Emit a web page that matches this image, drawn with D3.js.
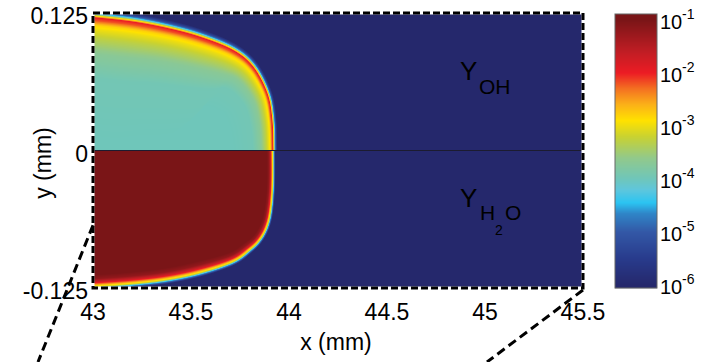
<!DOCTYPE html>
<html><head><meta charset="utf-8">
<script src="https://cdn.jsdelivr.net/npm/d3@7"></script>
<style>
body{margin:0;background:#fff}
svg{display:block}
text{font-family:"Liberation Sans",Arial,Helvetica,sans-serif;fill:#000}
</style>
</head><body>
<svg id="chart" width="711" height="362"></svg>
<script>
// ---------- data ----------
const xTicks = [43, 43.5, 44, 44.5, 45, 45.5];
const xTickLabels = ["43", "43.5", "44", "44.5", "45", "45.5"];
const yTicks = [-0.125, 0, 0.125];
const yTickLabels = ["-0.125", "0", "0.125"];
const cbTicks = [-1, -2, -3, -4, -5, -6];       // log10 exponents
const cbTickLabels = ["-1", "-2", "-3", "-4", "-5", "-6"];

// colormap (log10 value -> colour)
const cmapLog = [-6, -5.5, -5, -4.65, -4.45, -4.2, -4.0, -3.6, -3.2, -2.9, -2.6, -2.3, -2.0, -1.6, -1.0];
const cmapColors = ["#25286c", "#283b8c", "#3358a6", "#2f86c8", "#2bc4f2", "#5fc6dc", "#6fc6ba",
                    "#92c98a", "#c9d230", "#ffe200", "#fbb118", "#f47121", "#ec1c24", "#c01d24", "#7a1517"];

// OH flame front (upper half): x (mm), y (mm), local thickness factor
const ohFrontX = [43.918, 43.918, 43.913, 43.888, 43.816, 43.714, 43.546, 43.378, 43.204, 43.020, 42.960];
const ohFrontY = [-0.004, 0.003, 0.028, 0.052, 0.076, 0.091, 0.103, 0.111, 0.1168, 0.1205, 0.1214];
const ohFrontW = [1.0, 1.0, 1.1, 1.3, 1.7, 2.2, 2.6, 2.8, 3.0, 3.0, 3.0];
// OH profile across the front (distance in px, + = burnt side) -> log10(Y_OH)
const ohProfileD = [-4.5, -3, -2, -1, 0, 1, 2.5, 4, 7, 12, 20, 40];
const ohProfileLog = [-6, -5.2, -4.4, -3.0, -2.0, -2.2, -2.8, -3.0, -3.3, -3.7, -3.95, -4.0];

// H2O flame front (lower half)
const h2oFrontX = [43.918, 43.918, 43.908, 43.888, 43.852, 43.801, 43.714, 43.546, 43.378, 43.204, 43.036, 42.959];
const h2oFrontY = [0.005, -0.0295, -0.0541, -0.0695, -0.0814, -0.0905, -0.1014, -0.1114, -0.1177, -0.1214, -0.1236, -0.1241];
const h2oFrontW = [1.0, 1.0, 1.1, 1.2, 1.3, 1.5, 1.7, 2.0, 2.0, 2.0, 2.0, 2.0];
const h2oProfileD = [-2.5, -1.5, -0.8, 0, 0.8, 1.6, 2.5, 4, 6];
const h2oProfileLog = [-6, -5, -4.4, -3.2, -2.7, -2.2, -1.7, -1.2, -1.0];

// ---------- layout ----------
const svg = d3.select("#chart");
const m = {l: 93, r: 583, t: 13, b: 288};
const x = d3.scaleLinear().domain([43, 45.5]).range([m.l, m.r]);
const y = d3.scaleLinear().domain([-0.125, 0.125]).range([m.b, m.t]);
const color = d3.scaleLinear().domain(cmapLog).range(cmapColors).interpolate(d3.interpolateRgb).clamp(true);

// ---------- field raster ----------
const pw = m.r - m.l, ph = m.b - m.t;
const cv = document.createElement("canvas");
cv.width = pw; cv.height = ph;
const ctx = cv.getContext("2d");
const img = ctx.createImageData(pw, ph);

// smooth a traced front (Catmull-Rom through the read points)
function smoothPts(pts, n) {
  const out = [];
  const L = pts.length;
  for (let i = 0; i < L - 1; i++) {
    const p0 = pts[Math.max(i - 1, 0)], p1 = pts[i], p2 = pts[i + 1], p3 = pts[Math.min(i + 2, L - 1)];
    for (let s = 0; s < n; s++) {
      const t = s / n, t2 = t * t, t3 = t2 * t;
      out.push(p1.map((_, k) => 0.5 * (2 * p1[k] + (-p0[k] + p2[k]) * t +
        (2 * p0[k] - 5 * p1[k] + 4 * p2[k] - p3[k]) * t2 +
        (-p0[k] + 3 * p1[k] - 3 * p2[k] + p3[k]) * t3)));
    }
  }
  out.push(pts[L - 1]);
  return out;
}
function makeFront(fx, fy, fw, closeY) {
  const raw = fx.map((v, i) => [x(v), y(fy[i]), fw[i]]);
  const pts = smoothPts(raw, 12);
  const last = pts[pts.length - 1];
  const poly = pts.map(p => [p[0], p[1]]);
  poly.push([m.l - 30, last[1]], [m.l - 30, closeY], [pts[0][0], closeY]);
  return {pts, poly};
}
const ohF = makeFront(ohFrontX, ohFrontY, ohFrontW, y(0) + 20);
const h2oF = makeFront(h2oFrontX, h2oFrontY, h2oFrontW, y(0) - 20);
const ohProf = d3.scaleLinear().domain(ohProfileD).range(ohProfileLog).clamp(true);
const h2oProf = d3.scaleLinear().domain(h2oProfileD).range(h2oProfileLog).clamp(true);

function signedDist(front, px, py) {
  const pts = front.pts;
  let best = 1e12, bw = 1;
  for (let i = 0; i < pts.length - 1; i++) {
    const ax = pts[i][0], ay = pts[i][1], aw = pts[i][2];
    const bx = pts[i + 1][0], by = pts[i + 1][1], bw2 = pts[i + 1][2];
    const dx = bx - ax, dy = by - ay, L = dx * dx + dy * dy || 1e-9;
    let t = ((px - ax) * dx + (py - ay) * dy) / L;
    t = Math.max(0, Math.min(1, t));
    const qx = ax + t * dx - px, qy = ay + t * dy - py;
    const d = qx * qx + qy * qy;
    if (d < best) { best = d; bw = aw + (bw2 - aw) * t; }
  }
  const inside = d3.polygonContains(front.poly, [px, py]);
  return [(inside ? 1 : -1) * Math.sqrt(best), bw];
}

const y0px = y(0);
const cache = new Map();
for (let j = 0; j < ph; j++) {
  const py = m.t + j + 0.5;
  const upper = py < y0px;
  const front = upper ? ohF : h2oF;
  const prof = upper ? ohProf : h2oProf;
  for (let i = 0; i < pw; i++) {
    const px = m.l + i + 0.5;
    const [d, w] = signedDist(front, px, py);
    const dn = d > 0 ? d / w : d / (1 + 0.5 * (w - 1));
    const v = prof(dn);
    const key = Math.round(v * 200);
    let c = cache.get(key);
    if (!c) { c = d3.rgb(color(key / 200)); cache.set(key, c); }
    const k = (j * pw + i) * 4;
    img.data[k] = c.r; img.data[k + 1] = c.g; img.data[k + 2] = c.b; img.data[k + 3] = 255;
  }
}
ctx.putImageData(img, 0, 0);
svg.append("image")
  .attr("x", m.l).attr("y", m.t).attr("width", pw).attr("height", ph)
  .attr("preserveAspectRatio", "none")
  .attr("href", cv.toDataURL());

// centre line at y = 0
svg.append("line")
  .attr("x1", m.l).attr("x2", m.r).attr("y1", y(0)).attr("y2", y(0))
  .attr("stroke", "#1c1c30").attr("stroke-width", 1.2);

// dashed frame
const frame = svg.append("g");
frame.append("rect").attr("x", m.l).attr("y", m.t).attr("width", pw).attr("height", ph)
  .attr("fill", "none").attr("stroke", "#fff").attr("stroke-width", 3);
frame.append("rect").attr("x", m.l).attr("y", m.t).attr("width", pw).attr("height", ph)
  .attr("fill", "none").attr("stroke", "#000").attr("stroke-width", 3).attr("stroke-dasharray", "7,3");

// zoom indicator lines
svg.append("line")
  .attr("x1", x(43)).attr("y1", y(-0.068)).attr("x2", 38).attr("y2", 362)
  .attr("stroke", "#000").attr("stroke-width", 3).attr("stroke-dasharray", "9,5");
svg.append("line")
  .attr("x1", x(45.5)).attr("y1", y(-0.125) + 2).attr("x2", 487).attr("y2", 362)
  .attr("stroke", "#000").attr("stroke-width", 3).attr("stroke-dasharray", "9,5");

// axes labels
const fs = 23;
svg.append("g").selectAll("text").data(xTicks).join("text")
  .attr("x", d => x(d)).attr("y", m.b + 32)
  .attr("text-anchor", "middle").attr("font-size", fs)
  .text((d, i) => xTickLabels[i]);
svg.append("g").selectAll("text").data(yTicks).join("text")
  .attr("x", 88).attr("y", d => y(d) + 11)
  .attr("text-anchor", "end").attr("font-size", fs)
  .text((d, i) => yTickLabels[i]);
svg.append("text").attr("x", (m.l + m.r) / 2 - 2).attr("y", 350)
  .attr("text-anchor", "middle").attr("font-size", fs).text("x (mm)");
svg.append("text").attr("transform", "translate(51,163) rotate(-90)")
  .attr("text-anchor", "middle").attr("font-size", fs).text("y (mm)");

// species labels
const lbl = svg.append("g");
lbl.append("text").attr("x", 460).attr("y", 80).attr("font-size", 26).text("Y");
lbl.append("text").attr("x", 479).attr("y", 94).attr("font-size", 21).text("OH");
lbl.append("text").attr("x", 460).attr("y", 207).attr("font-size", 26).text("Y");
lbl.append("text").attr("x", 480).attr("y", 220).attr("font-size", 21).text("H");
lbl.append("text").attr("x", 495).attr("y", 235).attr("font-size", 14).text("2");
lbl.append("text").attr("x", 505).attr("y", 220).attr("font-size", 21).text("O");

// ---------- colorbar ----------
const cb = {x: 615, w: 42, t: 14, b: 288};
const cbY = d3.scaleLinear().domain([-1, -6]).range([20, 285]);
const cbRows = d3.range(cb.t, cb.b);
svg.append("g").selectAll("rect").data(cbRows).join("rect")
  .attr("x", cb.x).attr("y", d => d).attr("width", cb.w).attr("height", 1.2)
  .attr("fill", d => color(cbY.invert(d + 0.5)));
svg.append("rect").attr("x", cb.x).attr("y", cb.t).attr("width", cb.w).attr("height", cb.b - cb.t)
  .attr("fill", "none").attr("stroke", "#666").attr("stroke-width", 1);
const cbl = svg.append("g").selectAll("g").data(cbTicks).join("g");
cbl.append("text").attr("x", 660).attr("y", d => cbY(d) + 9).attr("font-size", 20).text("10");
cbl.append("text").attr("x", 682).attr("y", d => cbY(d) - 1).attr("font-size", 14)
  .text((d, i) => cbTickLabels[i]);
</script>
</body></html>
